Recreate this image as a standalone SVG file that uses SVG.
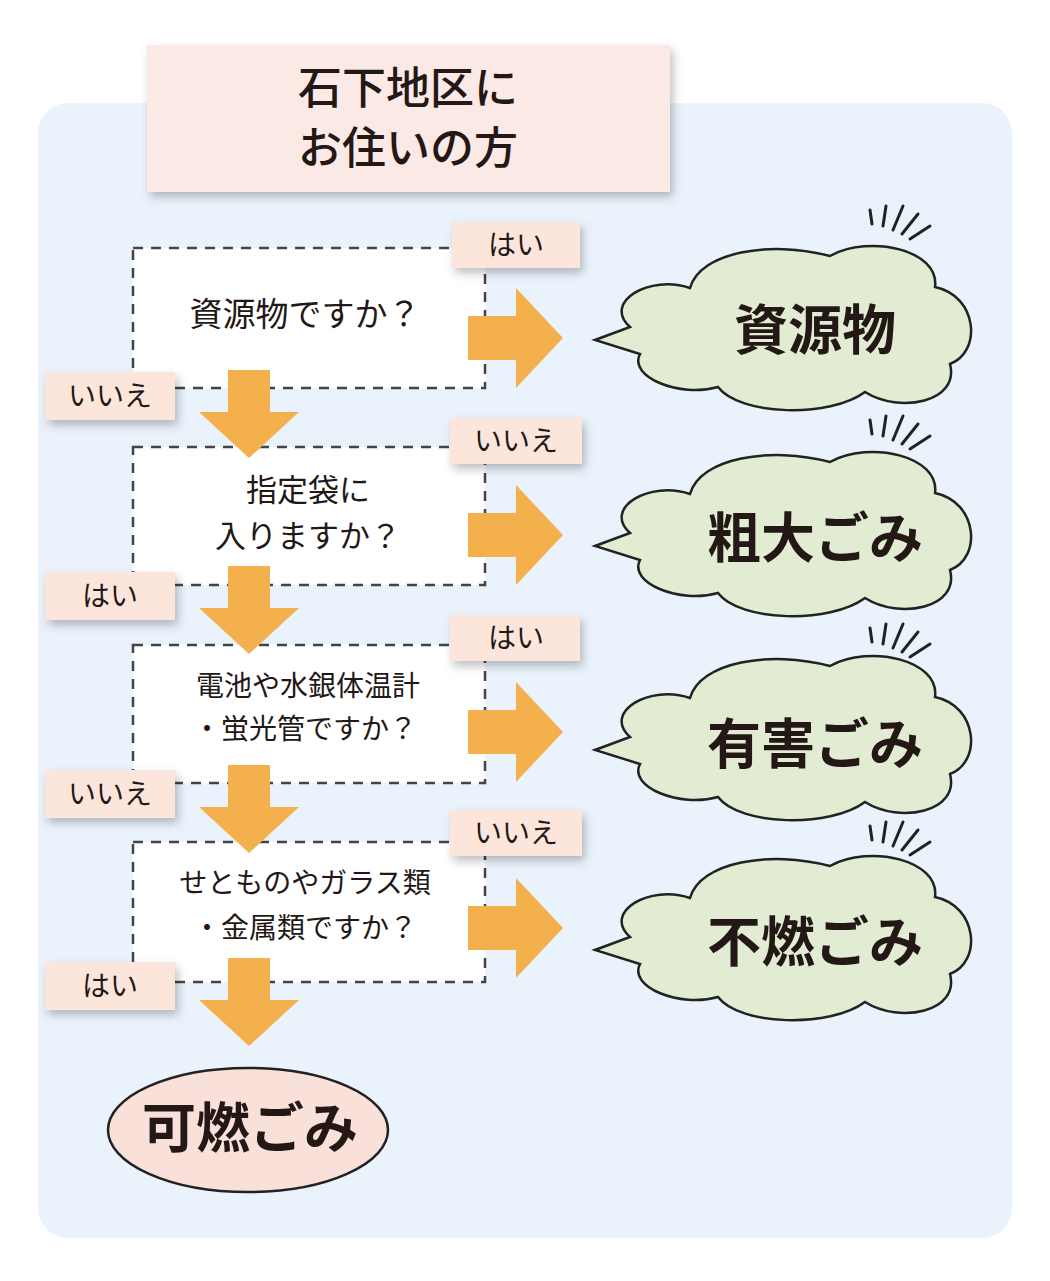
<svg xmlns="http://www.w3.org/2000/svg" width="1050" height="1281" viewBox="0 0 1050 1281">
<defs>
<filter id="sh" x="-20%" y="-20%" width="150%" height="160%"><feDropShadow dx="3" dy="5" stdDeviation="5" flood-color="#000" flood-opacity="0.25"/></filter>
<path id="cloud" d="M -160,-5 C -188,-30 -140,-58 -100,-44 C -90,-80 -20,-92 40,-76 C 80,-98 150,-82 145,-45 C 188,-36 192,20 160,32 C 170,70 110,82 75,60 C 40,86 -50,84 -72,55 C -110,66 -162,45 -150,22 L -195,8 L -160,-5 Z"/>
<g id="spark"><path d="M0,0 l2,14 M16,-4 l-3,20 M33,-4 l-10,24 M48,4 l-16,20 M60,16 l-20,13"/></g>
<path id="rarrow" d="M0,-22 H48 V-50 L95,0 L48,50 V22 H0 Z"/>
<path id="darrow" d="M-21,0 V42 H-50 L0,88 L50,42 H21 V0 Z"/>
</defs>
<style>
text{font-family:"Noto Sans CJK JP","Noto Sans",sans-serif;fill:#231815;text-anchor:middle}
.q{fill:#fff;stroke:#444;stroke-width:2.5;stroke-dasharray:10 8}
.lab{fill:#fce6dc;filter:url(#sh)}
.lt{font-size:28px}
.arr{fill:#f4b04c}
.cl{fill:#e2ecd3;stroke:#222;stroke-width:2.5}
.sp{fill:none;stroke:#222;stroke-width:3;stroke-linecap:round}
.big{font-size:54px;font-weight:bold}
.qt{font-size:33px}
.qm{font-size:31px}
.qs{font-size:28px}
</style>
<rect x="38" y="103" width="974" height="1135" rx="30" fill="#eaf3fc"/>
<g id="title"><rect x="147" y="45" width="523" height="147" fill="#fbe9e6" filter="url(#sh)"/>
<text x="408" y="104" font-size="44" font-weight="500" fill="#3a3a3a">石下地区に</text>
<text x="408" y="164" font-size="44" font-weight="500" fill="#3a3a3a">お住いの方</text></g>
<g id="q1"><rect class="q" x="133" y="248" width="352" height="140"/><text class="qt" x="305" y="326">資源物ですか？</text></g>
<g id="q2"><rect class="q" x="133" y="447" width="352" height="138"/><text class="qm" x="308" y="501">指定袋に</text><text class="qm" x="308" y="547">入りますか？</text></g>
<g id="q3"><rect class="q" x="133" y="645" width="352" height="138"/><text class="qs" x="308" y="696">電池や水銀体温計</text><text class="qs" x="305" y="739">・蛍光管ですか？</text></g>
<g id="q4"><rect class="q" x="133" y="842" width="352" height="140"/><text class="qs" x="305" y="893">せとものやガラス類</text><text class="qs" x="305" y="938">・金属類ですか？</text></g>
<g id="connectors">
<use href="#rarrow" class="arr" x="468" y="338"/>
<use href="#rarrow" class="arr" x="468" y="535"/>
<use href="#rarrow" class="arr" x="468" y="732"/>
<use href="#rarrow" class="arr" x="468" y="928"/>
<use href="#darrow" class="arr" x="249" y="370"/>
<use href="#darrow" class="arr" x="249" y="566"/>
<use href="#darrow" class="arr" x="249" y="765"/>
<use href="#darrow" class="arr" x="249" y="958"/>
</g>
<g id="labels">
<rect class="lab" x="452" y="222" width="128" height="46"/><text class="lt" x="516" y="255">はい</text>
<rect class="lab" x="45" y="372" width="130" height="48"/><text class="lt" x="110" y="406">いいえ</text>
<rect class="lab" x="450" y="418" width="132" height="46"/><text class="lt" x="516" y="451">いいえ</text>
<rect class="lab" x="45" y="572" width="130" height="48"/><text class="lt" x="110" y="606">はい</text>
<rect class="lab" x="450" y="615" width="130" height="46"/><text class="lt" x="516" y="648">はい</text>
<rect class="lab" x="45" y="770" width="130" height="48"/><text class="lt" x="110" y="804">いいえ</text>
<rect class="lab" x="450" y="810" width="132" height="46"/><text class="lt" x="516" y="843">いいえ</text>
<rect class="lab" x="45" y="962" width="130" height="48"/><text class="lt" x="110" y="996">はい</text>
</g>
<g id="c1"><use href="#cloud" class="cl" x="790" y="332"/><use href="#spark" class="sp" x="870" y="210"/><text class="big" x="815" y="350">資源物</text></g>
<g id="c2"><use href="#cloud" class="cl" x="790" y="538"/><use href="#spark" class="sp" x="870" y="420"/><text class="big" x="815" y="558">粗大ごみ</text></g>
<g id="c3"><use href="#cloud" class="cl" x="790" y="742"/><use href="#spark" class="sp" x="870" y="628"/><text class="big" x="815" y="764">有害ごみ</text></g>
<g id="c4"><use href="#cloud" class="cl" x="790" y="942"/><use href="#spark" class="sp" x="870" y="826"/><text class="big" x="815" y="962">不燃ごみ</text></g>
<g id="kanen"><ellipse cx="248" cy="1130" rx="140" ry="62" fill="#f9e1d9" stroke="#222" stroke-width="2.5"/><text class="big" x="250" y="1148">可燃ごみ</text></g>
</svg>
